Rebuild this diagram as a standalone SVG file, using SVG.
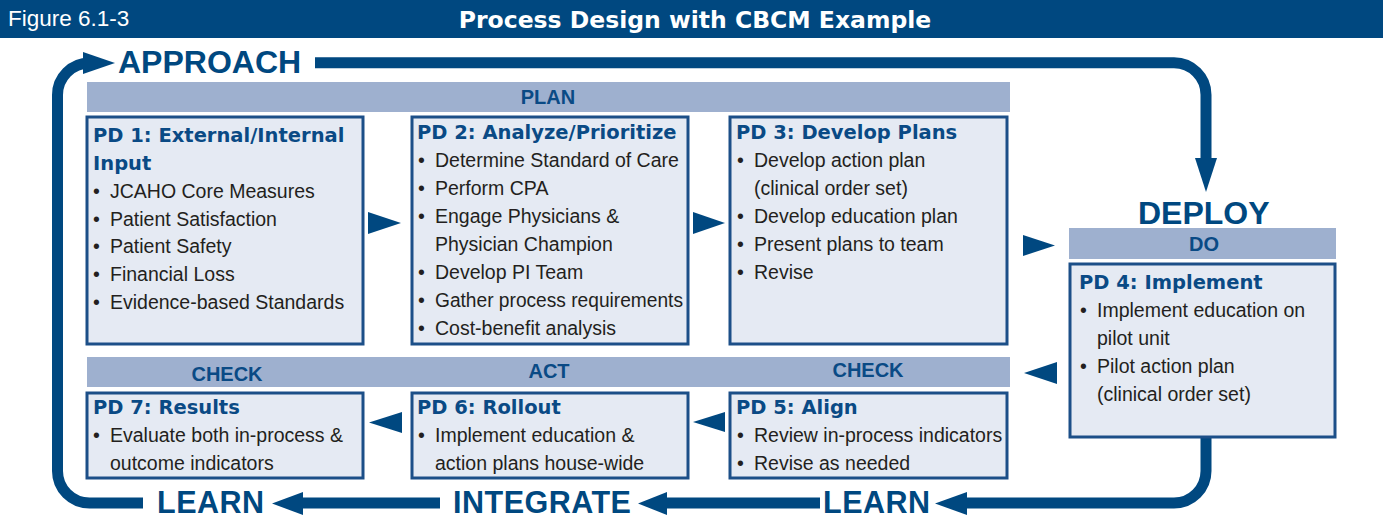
<svg xmlns="http://www.w3.org/2000/svg" width="1383" height="519" viewBox="0 0 1383 519">
<style>
.box{fill:#e5eaf3;stroke:#1c4f88;stroke-width:3}
.bar{fill:#9eb0cf}
.hd{font-family:"DejaVu Sans",sans-serif;font-weight:bold;font-size:19.5px;fill:#0a4a85}
.tx{font-family:"Liberation Sans",Arial,sans-serif;font-size:19.5px;fill:#231f20}
.bl{font-family:"Liberation Sans",Arial,sans-serif;font-weight:bold;font-size:20px;fill:#0a4a85;text-anchor:middle}
.big{font-family:"Liberation Sans",Arial,sans-serif;font-weight:bold;font-size:32px;fill:#004880}
.bigb{font-family:"Liberation Sans",Arial,sans-serif;font-weight:bold;font-size:30.5px;letter-spacing:0.5px;fill:#004880}
.ln{fill:none;stroke:#004880;stroke-width:11}
.ah{fill:#004880}
</style>
<rect x="0" y="0" width="1383" height="38" fill="#004880"/>
<text x="8" y="26" font-family="Liberation Sans,Arial,sans-serif" font-size="22.5" fill="#ffffff">Figure 6.1-3</text>
<text x="695" y="28" font-family="DejaVu Sans,sans-serif" font-weight="bold" font-size="23.5" fill="#ffffff" text-anchor="middle">Process Design with CBCM Example</text>

<g id="labels">
<text class="big" x="118" y="73">APPROACH</text>
<text class="big" x="1138" y="224">DEPLOY</text>
<text class="bigb" x="157" y="512.5">LEARN</text>
<text class="bigb" x="453" y="512.5">INTEGRATE</text>
<text class="bigb" x="823" y="512.5">LEARN</text>
</g>

<g id="bars">
<rect class="bar" x="87" y="82" width="923" height="30"/>
<text class="bl" x="548" y="104">PLAN</text>
<rect class="bar" x="1069" y="228" width="267" height="31"/>
<text class="bl" x="1204" y="251">DO</text>
<rect class="bar" x="87" y="357" width="923" height="30"/>
<text class="bl" x="227" y="381">CHECK</text>
<text class="bl" x="549" y="378">ACT</text>
<text class="bl" x="868" y="377">CHECK</text>
</g>

<g id="connectors">
<path class="ln" d="M315 62.8 H1174 A32 32 0 0 1 1206 94.8 V162"/>
<polygon class="ah" points="1195,158 1217,158 1206,192"/>
<path class="ln" d="M143 503 H89.5 A32 32 0 0 1 57.5 471 V95 A32 32 0 0 1 89.5 63 H86"/>
<polygon class="ah" points="83,52 115,63 83,74"/>
<path class="ln" d="M1206 437 V471 A32 32 0 0 1 1174 503 H964"/>
<polygon class="ah" points="967,492 935,503.5 967,515"/>
<path class="ln" d="M820 503 H664"/>
<polygon class="ah" points="667,492 638,503.5 667,515"/>
<path class="ln" d="M440 503 H300"/>
<polygon class="ah" points="303,492 272,503.5 303,515"/>
<polygon class="ah" points="368,212 368,234 401,223"/>
<polygon class="ah" points="693,212 693,234 725,223"/>
<polygon class="ah" points="1023,235 1023,256 1055,245.5"/>
<polygon class="ah" points="1057,362 1057,384 1024,373"/>
<polygon class="ah" points="725,412 725,432 693,422"/>
<polygon class="ah" points="402,412 402,433 369,422.5"/>
</g>

<g id="pd1">
<rect class="box" x="87" y="117" width="276" height="227"/>
<text class="hd" x="93" y="142">PD 1: External/Internal</text>
<text class="hd" x="93" y="170">Input</text>
<text class="tx"><tspan x="93" y="198">•</tspan><tspan x="110" y="198">JCAHO Core Measures</tspan></text>
<text class="tx"><tspan x="93" y="226">•</tspan><tspan x="110" y="226">Patient Satisfaction</tspan></text>
<text class="tx"><tspan x="93" y="253">•</tspan><tspan x="110" y="253">Patient Safety</tspan></text>
<text class="tx"><tspan x="93" y="281">•</tspan><tspan x="110" y="281">Financial Loss</tspan></text>
<text class="tx"><tspan x="93" y="309">•</tspan><tspan x="110" y="309">Evidence-based Standards</tspan></text>
</g>

<g id="pd2">
<rect class="box" x="412" y="117" width="276" height="227"/>
<text class="hd" x="417" y="139">PD 2: Analyze/Prioritize</text>
<text class="tx"><tspan x="418" y="167">•</tspan><tspan x="435" y="167">Determine Standard of Care</tspan></text>
<text class="tx"><tspan x="418" y="195">•</tspan><tspan x="435" y="195">Perform CPA</tspan></text>
<text class="tx"><tspan x="418" y="223">•</tspan><tspan x="435" y="223">Engage Physicians &amp;</tspan></text>
<text class="tx" x="435" y="251">Physician Champion</text>
<text class="tx"><tspan x="418" y="279">•</tspan><tspan x="435" y="279">Develop PI Team</tspan></text>
<text class="tx"><tspan x="418" y="307">•</tspan><tspan x="435" y="307" textLength="248" lengthAdjust="spacingAndGlyphs">Gather process requirements</tspan></text>
<text class="tx"><tspan x="418" y="335">•</tspan><tspan x="435" y="335">Cost-benefit analysis</tspan></text>
</g>

<g id="pd3">
<rect class="box" x="730" y="117" width="277" height="227"/>
<text class="hd" x="736" y="139">PD 3: Develop Plans</text>
<text class="tx"><tspan x="737" y="167">•</tspan><tspan x="754" y="167">Develop action plan</tspan></text>
<text class="tx" x="754" y="195">(clinical order set)</text>
<text class="tx"><tspan x="737" y="223">•</tspan><tspan x="754" y="223">Develop education plan</tspan></text>
<text class="tx"><tspan x="737" y="251">•</tspan><tspan x="754" y="251">Present plans to team</tspan></text>
<text class="tx"><tspan x="737" y="279">•</tspan><tspan x="754" y="279">Revise</tspan></text>
</g>

<g id="pd4">
<rect class="box" x="1070" y="264" width="265" height="173"/>
<text class="hd" x="1079" y="289">PD 4: Implement</text>
<text class="tx"><tspan x="1080" y="317">•</tspan><tspan x="1097" y="317">Implement education on</tspan></text>
<text class="tx" x="1097" y="345">pilot unit</text>
<text class="tx"><tspan x="1080" y="373">•</tspan><tspan x="1097" y="373">Pilot action plan</tspan></text>
<text class="tx" x="1097" y="401">(clinical order set)</text>
</g>

<g id="pd5">
<rect class="box" x="730" y="393" width="277" height="85"/>
<text class="hd" x="736" y="414">PD 5: Align</text>
<text class="tx"><tspan x="737" y="442">•</tspan><tspan x="754" y="442">Review in-process indicators</tspan></text>
<text class="tx"><tspan x="737" y="470">•</tspan><tspan x="754" y="470">Revise as needed</tspan></text>
</g>

<g id="pd6">
<rect class="box" x="412" y="393" width="276" height="85"/>
<text class="hd" x="417" y="414">PD 6: Rollout</text>
<text class="tx"><tspan x="418" y="442">•</tspan><tspan x="435" y="442">Implement education &amp;</tspan></text>
<text class="tx" x="435" y="470">action plans house-wide</text>
</g>

<g id="pd7">
<rect class="box" x="87" y="393" width="276" height="85"/>
<text class="hd" x="93" y="414">PD 7: Results</text>
<text class="tx"><tspan x="93" y="442">•</tspan><tspan x="110" y="442">Evaluate both in-process &amp;</tspan></text>
<text class="tx" x="110" y="470">outcome indicators</text>
</g>
</svg>
